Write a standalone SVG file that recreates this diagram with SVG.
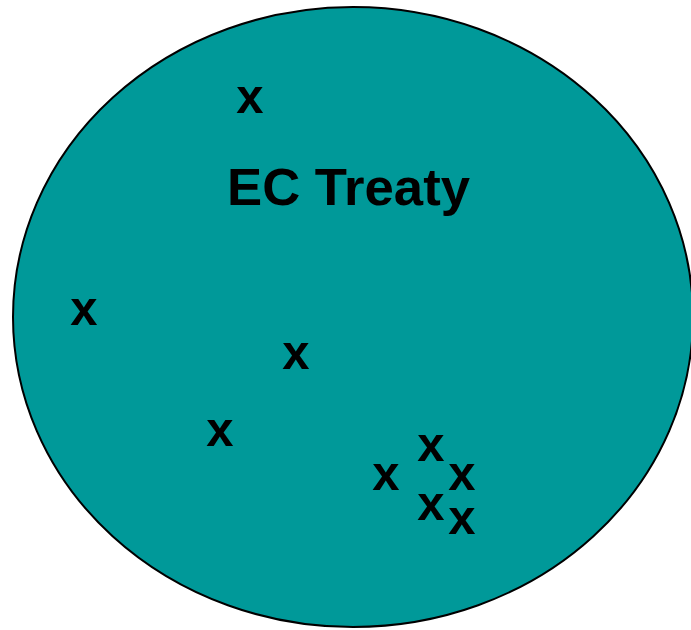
<svg xmlns="http://www.w3.org/2000/svg" width="691" height="630" viewBox="0 0 691 630">
<style>
.m{font-family:"Liberation Sans",Arial,sans-serif;font-weight:bold;font-size:49px;fill:#000;text-anchor:middle}
.t{font-family:"Liberation Sans",Arial,sans-serif;font-weight:bold;font-size:52px;fill:#000}
</style>
<rect width="691" height="630" fill="#fff"/>
<g id="ec-treaty">
<ellipse cx="353" cy="317" rx="340" ry="310" fill="#009999" stroke="#000" stroke-width="2"/>
<text class="t" x="227" y="205" textLength="243" lengthAdjust="spacingAndGlyphs">EC Treaty</text>
</g>
<g id="marks">
<text class="m" x="250" y="113">x</text>
<text class="m" x="84" y="325">x</text>
<text class="m" x="296" y="369">x</text>
<text class="m" x="220" y="446">x</text>
<text class="m" x="386" y="490">x</text>
<text class="m" x="431" y="461">x</text>
<text class="m" x="462" y="490">x</text>
<text class="m" x="431" y="520">x</text>
<text class="m" x="462" y="534">x</text>
</g>
</svg>
